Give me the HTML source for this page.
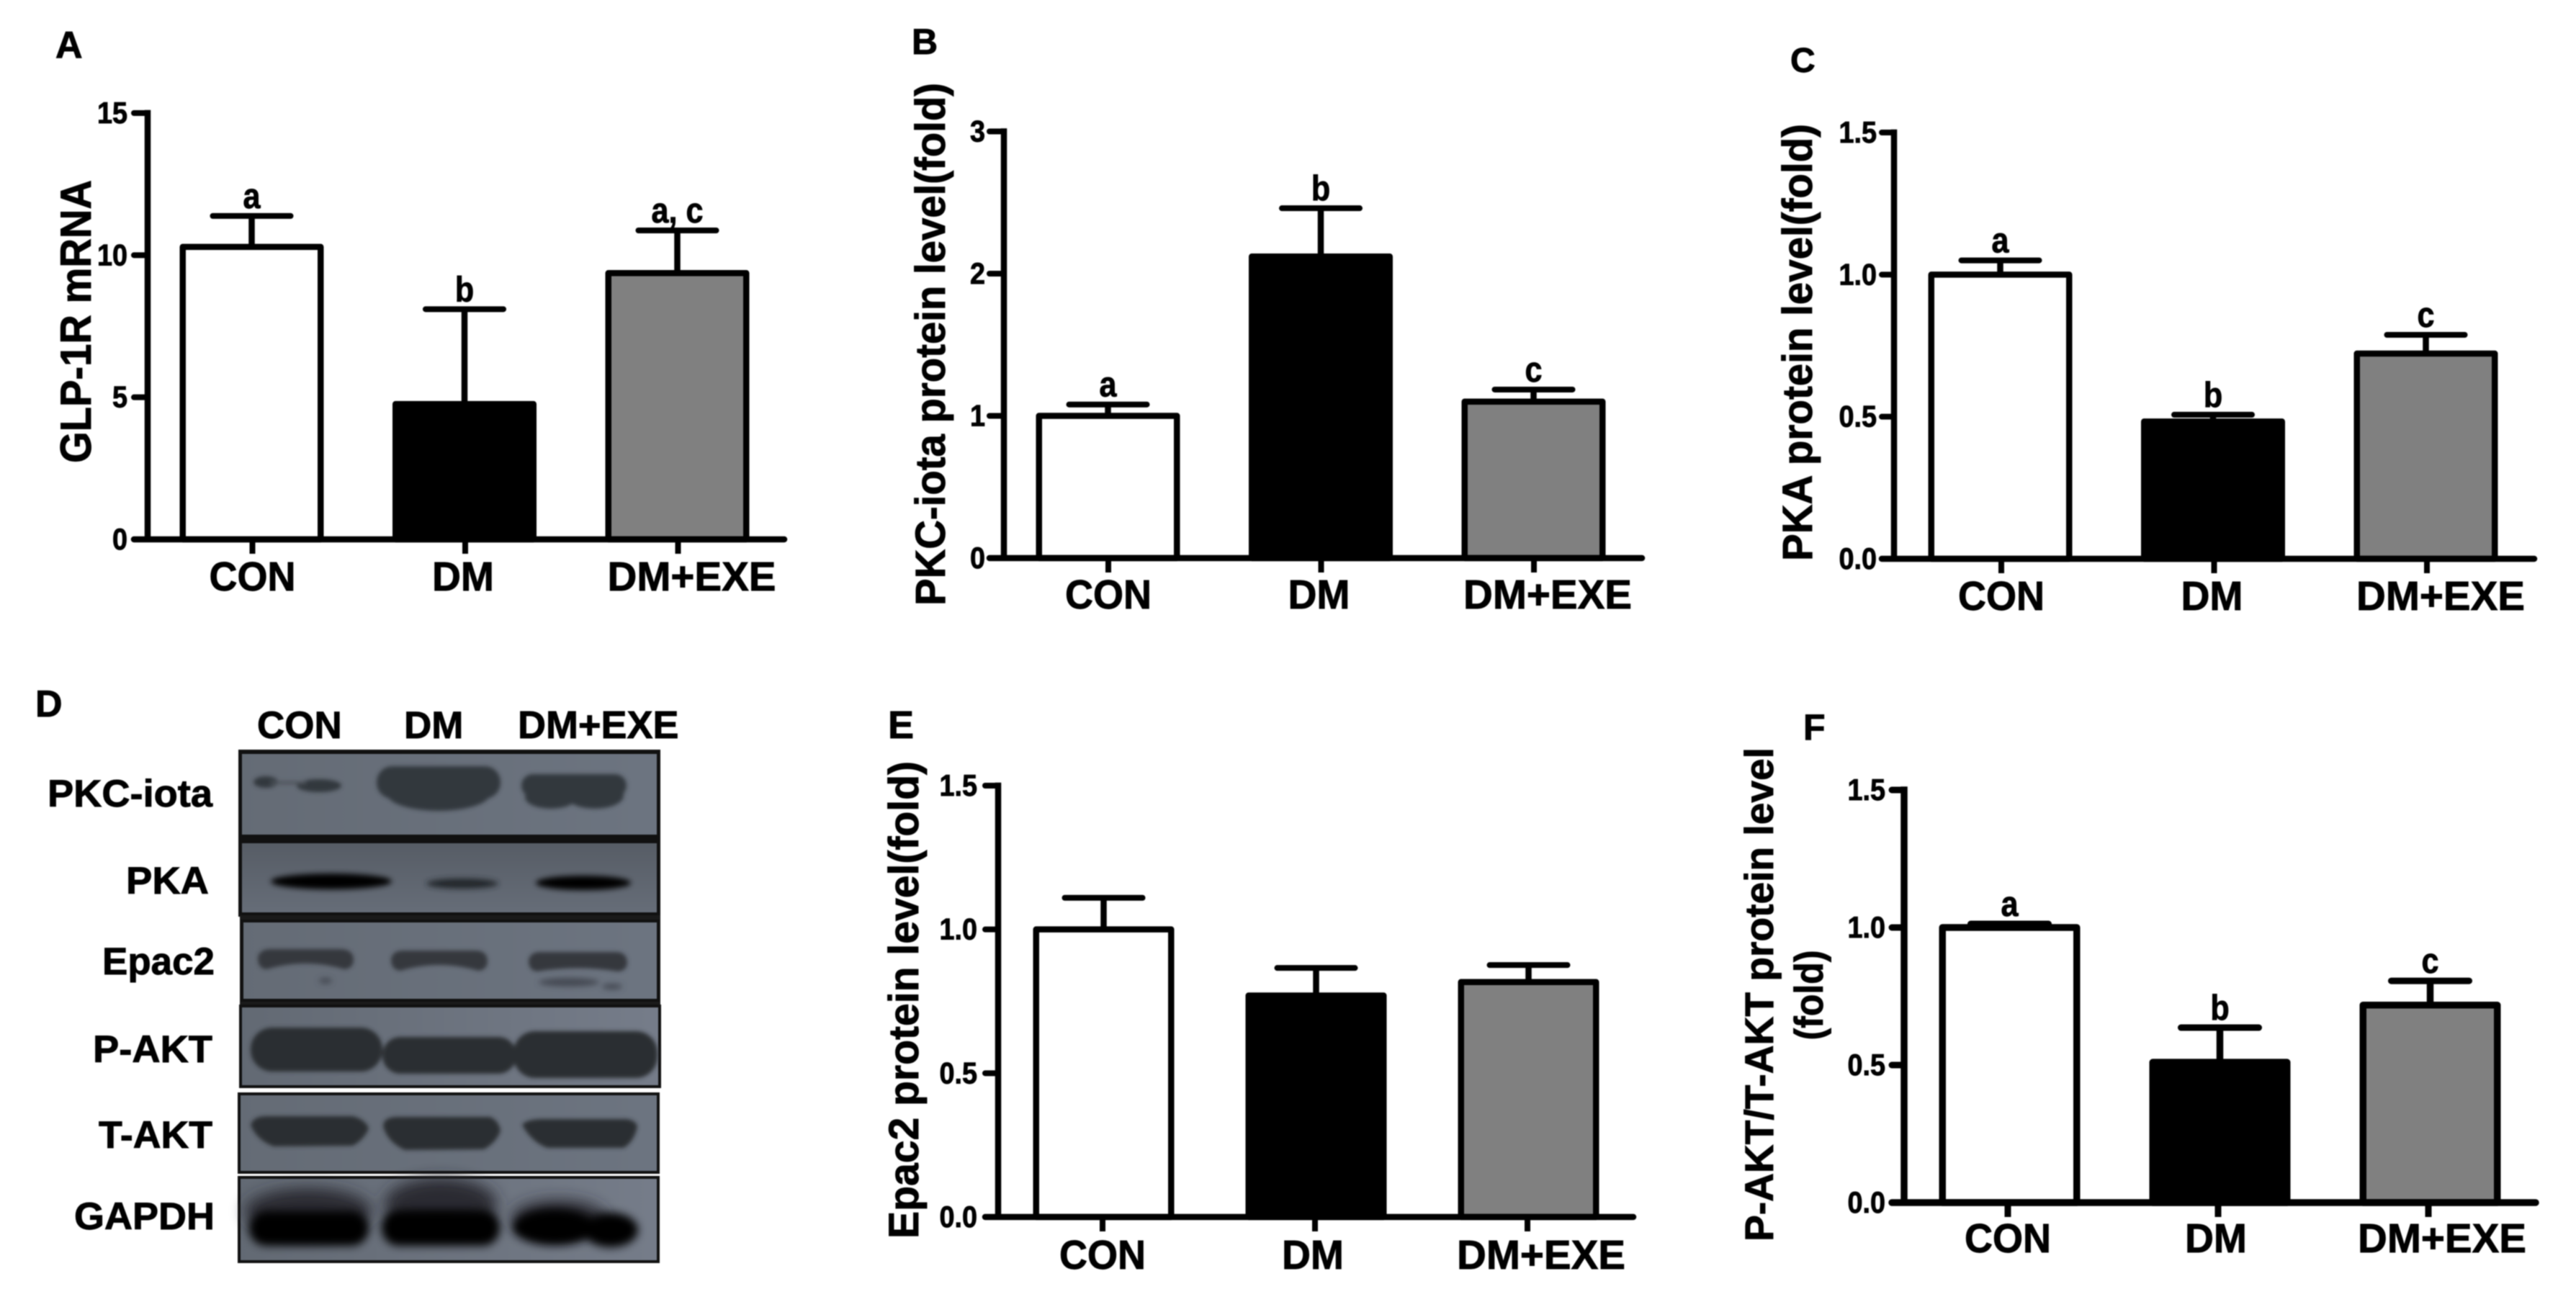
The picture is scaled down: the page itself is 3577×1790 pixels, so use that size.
<!DOCTYPE html>
<html lang="en">
<head>
<meta charset="utf-8">
<title>Panels A-F protein levels</title>
<style>
html,body{margin:0;padding:0;background:#fff;width:3577px;height:1790px;overflow:hidden}
svg{display:block;filter:blur(0.9px)}
text{font-family:"Liberation Sans",Arial,sans-serif;font-weight:bold;fill:#000;stroke:#000;stroke-width:0.9px}
</style>
</head>
<body>
<svg id="figure" xmlns="http://www.w3.org/2000/svg" width="3577" height="1790" viewBox="0 0 3577 1790">
<defs>
<filter id="soft" x="-20%" y="-40%" width="140%" height="180%"><feGaussianBlur stdDeviation="3"/></filter>
<filter id="softer" x="-20%" y="-60%" width="140%" height="220%"><feGaussianBlur stdDeviation="10"/></filter>
<filter id="soft2" x="-20%" y="-60%" width="140%" height="220%"><feGaussianBlur stdDeviation="4"/></filter>
<filter id="soft3" x="-20%" y="-60%" width="140%" height="220%"><feGaussianBlur stdDeviation="6"/></filter>
<linearGradient id="blotA" x1="0" y1="0" x2="1" y2="0"><stop offset="0" stop-color="#646b75"/><stop offset="1" stop-color="#6c7480"/></linearGradient>
<linearGradient id="blotB" x1="0" y1="0" x2="0" y2="1"><stop offset="0" stop-color="#565c65"/><stop offset="1" stop-color="#666d78"/></linearGradient>
<linearGradient id="blotC" x1="0" y1="0" x2="1" y2="0"><stop offset="0" stop-color="#626973"/><stop offset="1" stop-color="#757c89"/></linearGradient>
</defs>

<g id="western-blot">
  <text x="49" y="995" font-size="52">D</text>
  <text x="357" y="1025" font-size="53">CON</text>
  <text x="561" y="1025" font-size="53">DM</text>
  <text x="719" y="1025" font-size="54">DM+EXE</text>

  <text x="295" y="1120" font-size="53" text-anchor="end" textLength="229" lengthAdjust="spacingAndGlyphs">PKC-iota</text>
  <text x="290" y="1241" font-size="53" text-anchor="end" textLength="115" lengthAdjust="spacingAndGlyphs">PKA</text>
  <text x="298" y="1353" font-size="53" text-anchor="end" textLength="156" lengthAdjust="spacingAndGlyphs">Epac2</text>
  <text x="295" y="1475" font-size="53" text-anchor="end" textLength="166" lengthAdjust="spacingAndGlyphs">P-AKT</text>
  <text x="295" y="1594" font-size="53" text-anchor="end" textLength="158" lengthAdjust="spacingAndGlyphs">T-AKT</text>
  <text x="298" y="1707" font-size="53" text-anchor="end" textLength="195" lengthAdjust="spacingAndGlyphs">GAPDH</text>

  <rect x="331" y="1041" width="586" height="232" fill="#111"/>
  <rect x="333" y="1271" width="584" height="124" fill="#1a1a1a"/>

  <g>
    <rect x="334" y="1045" width="580" height="116" fill="url(#blotA)" stroke="#111" stroke-width="4"/>
    <g filter="url(#soft)" fill="#33373e">
      <ellipse cx="369" cy="1086" rx="17" ry="8"/>
      <ellipse cx="443" cy="1091" rx="31" ry="9"/>
      <rect x="375" y="1085" width="50" height="4" fill="#4c5159"/>
      <rect x="523" y="1064" width="172" height="45" rx="22"/>
      <ellipse cx="609" cy="1102" rx="72" ry="24"/>
      <rect x="724" y="1075" width="146" height="32" rx="16"/>
      <ellipse cx="765" cy="1107" rx="36" ry="16"/>
      <ellipse cx="826" cy="1105" rx="40" ry="18"/>
    </g>
  </g>

  <g>
    <rect x="334" y="1169" width="580" height="100" fill="url(#blotB)" stroke="#111" stroke-width="4"/>
    <g filter="url(#soft2)" fill="#060606">
      <ellipse cx="460" cy="1224" rx="84" ry="11"/>
      <ellipse cx="642" cy="1227" rx="50" ry="7" fill="#23252a"/>
      <ellipse cx="810" cy="1226" rx="66" ry="10"/>
    </g>
  </g>

  <g>
    <rect x="336" y="1279" width="578" height="110" fill="url(#blotA)" stroke="#111" stroke-width="4"/>
    <g filter="url(#soft)" fill="#34383e">
      <path d="M358 1330 Q360 1318 376 1318 L472 1318 Q490 1318 491 1332 Q491 1345 478 1346 Q424 1330 370 1346 Q358 1345 358 1330 Z"/>
      <path d="M543 1332 Q545 1320 560 1320 L660 1320 Q676 1320 677 1334 Q677 1347 664 1348 Q610 1332 556 1348 Q543 1347 543 1332 Z"/>
      <path d="M734 1334 Q736 1322 750 1322 L855 1322 Q870 1322 871 1336 Q871 1348 858 1349 Q802 1340 746 1349 Q734 1348 734 1334 Z"/>
    </g>
    <g filter="url(#soft2)" fill="#454a52">
      <ellipse cx="790" cy="1364" rx="42" ry="6"/>
      <ellipse cx="850" cy="1370" rx="14" ry="4"/>
      <ellipse cx="452" cy="1362" rx="9" ry="4"/>
    </g>
  </g>

  <g>
    <rect x="334" y="1397" width="582" height="112" fill="url(#blotC)" stroke="#111" stroke-width="4"/>
    <g filter="url(#soft)" fill="#2b2e33">
      <rect x="348" y="1427" width="183" height="61" rx="30"/>
      <rect x="531" y="1440" width="186" height="51" rx="25"/>
      <rect x="713" y="1432" width="200" height="65" rx="30"/>
    </g>
  </g>

  <g>
    <rect x="332" y="1519" width="582" height="109" fill="url(#blotA)" stroke="#111" stroke-width="4"/>
    <g filter="url(#soft)" fill="#2c2f33">
      <path d="M348 1562 Q352 1550 370 1550 L490 1550 Q508 1555 512 1567 Q506 1582 490 1591 L380 1592 Q356 1583 348 1562 Z"/>
      <path d="M532 1564 Q532 1552 550 1551 L680 1551 Q692 1555 695 1570 Q690 1586 672 1596 L562 1597 Q538 1586 532 1564 Z"/>
      <path d="M725 1562 Q730 1555 750 1554 L870 1554 Q884 1556 885 1565 Q880 1586 866 1594 L760 1594 Q738 1586 725 1562 Z"/>
    </g>
  </g>

  <g>
    <rect x="332" y="1635" width="582" height="117" fill="url(#blotC)" stroke="#111" stroke-width="4"/>
    <g filter="url(#softer)" fill="#2a2c30">
      <ellipse cx="428" cy="1682" rx="88" ry="32"/>
      <ellipse cx="612" cy="1672" rx="78" ry="36"/>
      <ellipse cx="776" cy="1692" rx="66" ry="26"/>
    </g>
    <g filter="url(#soft3)" fill="#060606">
      <rect x="346" y="1682" width="166" height="48" rx="24"/>
      <rect x="530" y="1680" width="164" height="50" rx="24"/>
      <ellipse cx="770" cy="1704" rx="58" ry="25"/>
      <ellipse cx="848" cy="1708" rx="38" ry="24"/>
    </g>
  </g>
</g>

<g id="charts"></g>
</svg>

<script>
const categories = ['CON', 'DM', 'DM+EXE'];

const meansA = [10.29, 4.76, 9.37];
const errorTopsA = [11.38, 8.1, 10.87];
const tickValuesA = [0, 5, 10, 15];
const tickLabelsA = ['0', '5', '10', '15'];
const lettersA = ['a', 'b', 'a, c'];

const meansB = [1.0, 2.12, 1.1];
const errorTopsB = [1.08, 2.46, 1.185];
const tickValuesB = [0, 1, 2, 3];
const tickLabelsB = ['0', '1', '2', '3'];
const lettersB = ['a', 'b', 'c'];

const meansC = [1.0, 0.483, 0.722];
const errorTopsC = [1.05, 0.507, 0.788];
const tickValuesC = [0, 0.5, 1, 1.5];
const tickLabelsC = ['0.0', '0.5', '1.0', '1.5'];
const lettersC = ['a', 'b', 'c'];

const meansE = [1.0, 0.77, 0.817];
const errorTopsE = [1.11, 0.866, 0.876];
const tickValuesE = [0, 0.5, 1, 1.5];
const tickLabelsE = ['0.0', '0.5', '1.0', '1.5'];
const lettersE = ['', '', ''];

const meansF = [1.0, 0.51, 0.718];
const errorTopsF = [1.013, 0.636, 0.806];
const tickValuesF = [0, 0.5, 1, 1.5];
const tickLabelsF = ['0.0', '0.5', '1.0', '1.5'];
const lettersF = ['a', 'b', 'c'];

const barFills = ['#ffffff', '#000000', '#808080'];
const xLabelLengths = [120, 86, 234];
const xLabelShifts = [0, -3, 19];
const NS = 'http://www.w3.org/2000/svg';
const root = document.getElementById('charts');

function node(parent, tag) {
  const el = document.createElementNS(NS, tag);
  parent.appendChild(el);
  return el;
}

function line(el, x1, y1, x2, y2, width, cap) {
  el.setAttribute('x1', x1);
  el.setAttribute('y1', y1);
  el.setAttribute('x2', x2);
  el.setAttribute('y2', y2);
  el.setAttribute('stroke', '#000');
  el.setAttribute('stroke-width', width);
  el.setAttribute('stroke-linecap', cap);
}

function drawPanel(p) {
  const yScale = v => p.y0 - (v / p.max) * (p.y0 - p.yTop);
  const xScale = i => p.cx0 + i * p.step;
  const slug = p.id.toLowerCase();

  const g = node(root, 'g');
  
  

  const label = node(g, 'text');
  
  
  label.setAttribute('x', p.labelX);
  label.setAttribute('y', p.labelY);
  label.setAttribute('font-size', p.labelSize);
  label.textContent = p.id;

  p.titles.forEach((t, n) => {
    const title = node(g, 'text');
    
    
    title.setAttribute('transform', 'translate(' + t.x + ',' + t.cy + ') rotate(-90)');
    title.setAttribute('text-anchor', 'middle');
    title.setAttribute('font-size', t.size);
    title.setAttribute('textLength', t.len);
    title.setAttribute('lengthAdjust', 'spacingAndGlyphs');
    title.textContent = t.text;
  });

  p.means.forEach((m, i) => {
    const cx = xScale(i);
    const top = yScale(m);
    const capY = yScale(p.errorTops[i]);

    const stem = node(g, 'line');
    
    
    line(stem, cx, top, cx, capY, p.sw, 'butt');

    const cap = node(g, 'line');
    
    
    line(cap, cx - 54, capY, cx + 54, capY, p.sw - 0.5, 'round');

    const bar = node(g, 'rect');
    
    
    bar.setAttribute('x', cx - p.barW / 2 + p.sw / 2);
    bar.setAttribute('y', top);
    bar.setAttribute('width', p.barW - p.sw);
    bar.setAttribute('height', Math.max(0, p.y0 - top));
    bar.setAttribute('fill', barFills[i]);
    bar.setAttribute('stroke', '#000');
    bar.setAttribute('stroke-width', p.sw);
    bar.setAttribute('stroke-linejoin', 'round');

    if (p.letters[i]) {
      const letter = node(g, 'text');
      
      
      letter.setAttribute('transform', 'translate(' + cx + ',' + (capY - 11) + ') scale(0.88,1)');
      letter.setAttribute('text-anchor', 'middle');
      letter.setAttribute('font-size', 49);
      letter.textContent = p.letters[i];
    }

    const xTick = node(g, 'line');
    
    
    line(xTick, p.tickX0 + i * p.step, p.y0, p.tickX0 + i * p.step, p.y0 + 20, p.sw - 0.5, 'butt');

    const xLabel = node(g, 'text');
    
    
    xLabel.setAttribute('x', p.tickX0 + i * p.step + xLabelShifts[i]);
    xLabel.setAttribute('y', p.xLabelY);
    xLabel.setAttribute('text-anchor', 'middle');
    xLabel.setAttribute('font-size', 57);
    xLabel.setAttribute('textLength', xLabelLengths[i]);
    xLabel.setAttribute('lengthAdjust', 'spacingAndGlyphs');
    xLabel.textContent = categories[i];
  });

  const yAxis = node(g, 'line');
  
  
  line(yAxis, p.axisX, p.yTop - p.sw / 2, p.axisX, p.y0, p.sw, 'butt');

  const xAxis = node(g, 'line');
  
  
  line(xAxis, p.axisStart, p.y0, p.axisEnd, p.y0, p.sw, 'round');

  p.tickValues.forEach((v, i) => {
    const ty = yScale(v);

    const tick = node(g, 'line');
    
    
    line(tick, p.axisStart, ty, p.axisX, ty, p.sw - 0.5, 'round');

    const tickLabel = node(g, 'text');
    
    
    tickLabel.setAttribute('transform', 'translate(' + p.tickRight + ',' + (ty + 14) + ') scale(0.9,1)');
    tickLabel.setAttribute('text-anchor', 'end');
    tickLabel.setAttribute('font-size', 42);
    tickLabel.textContent = p.tickLabels[i];
  });
}

drawPanel({id:'A', means:meansA, errorTops:errorTopsA, tickValues:tickValuesA, tickLabels:tickLabelsA, letters:lettersA, max:15,
  y0:749, yTop:157, axisX:205, axisStart:186, axisEnd:1089, cx0:349.5, step:295.5, tickX0:350.5, barW:200, sw:8.5,
  xLabelY:820, tickRight:177, labelX:77, labelY:80, labelSize:52,
  titles:[{text:'GLP-1R mRNA', x:126, cy:446.5, size:60, len:393}]});

drawPanel({id:'B', means:meansB, errorTops:errorTopsB, tickValues:tickValuesB, tickLabels:tickLabelsB, letters:lettersB, max:3,
  y0:775, yTop:182.5, axisX:1394, axisStart:1374, axisEnd:2280, cx0:1538.5, step:295.5, tickX0:1539, barW:200, sw:8.5,
  xLabelY:845, tickRight:1368, labelX:1266, labelY:75, labelSize:50,
  titles:[{text:'PKC-iota protein level(fold)', x:1312, cy:478, size:58, len:726}]});

drawPanel({id:'C', means:meansC, errorTops:errorTopsC, tickValues:tickValuesC, tickLabels:tickLabelsC, letters:lettersC, max:1.5,
  y0:776, yTop:184, axisX:2630, axisStart:2613, axisEnd:3519, cx0:2777.5, step:295.5, tickX0:2779, barW:200, sw:8.5,
  xLabelY:847, tickRight:2606, labelX:2486, labelY:100, labelSize:48,
  titles:[{text:'PKA protein level(fold)', x:2516, cy:475.5, size:58, len:607}]});

drawPanel({id:'E', means:meansE, errorTops:errorTopsE, tickValues:tickValuesE, tickLabels:tickLabelsE, letters:lettersE, max:1.5,
  y0:1690, yTop:1091, axisX:1386, axisStart:1368, axisEnd:2268, cx0:1532.5, step:295, tickX0:1531, barW:196, sw:8.5,
  xLabelY:1762, tickRight:1357, labelX:1233, labelY:1025, labelSize:54,
  titles:[{text:'Epac2 protein level(fold)', x:1275, cy:1388.5, size:58, len:663}]});

drawPanel({id:'F', means:meansF, errorTops:errorTopsF, tickValues:tickValuesF, tickLabels:tickLabelsF, letters:lettersF, max:1.5,
  y0:1670, yTop:1097, axisX:2644, axisStart:2627, axisEnd:3521, cx0:2790.5, step:292, tickX0:2788, barW:196, sw:9.5,
  xLabelY:1739, tickRight:2618, labelX:2504, labelY:1027, labelSize:50,
  titles:[{text:'P-AKT/T-AKT protein level', x:2462, cy:1381, size:56, len:686},
          {text:'(fold)', x:2531, cy:1382, size:56, len:125}]});
</script>
</body>
</html>
